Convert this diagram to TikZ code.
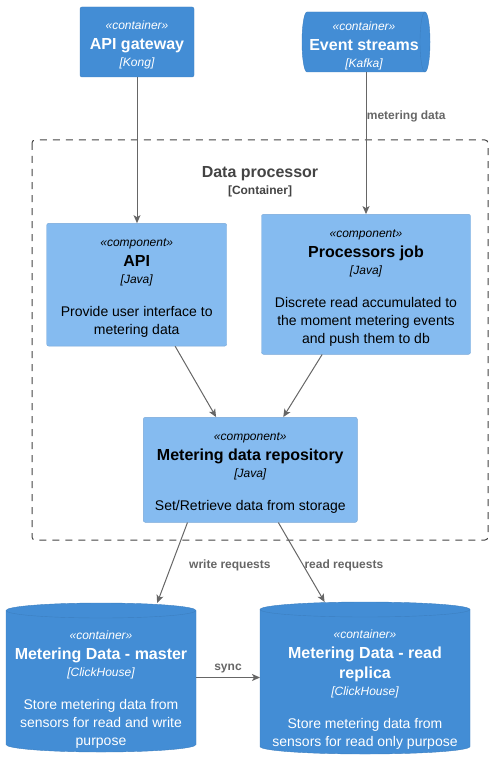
\documentclass[tikz,border=0pt]{standalone}
\usepackage{fontspec}
\setmainfont{Liberation Sans}
\usepackage{tikz}
\usetikzlibrary{arrows.meta}

\definecolor{ctfill}{HTML}{438DD5}
\definecolor{ctline}{HTML}{3C7FC0}
\definecolor{cpfill}{HTML}{85BBF0}
\definecolor{cpline}{HTML}{78A8D8}
\definecolor{relgrey}{HTML}{666666}
\definecolor{bdgrey}{HTML}{444444}

\newcommand\stereo{\itshape\fontsize{12}{18}\selectfont\rule{0pt}{15pt}}
\newcommand\ctitle{\bfseries\fontsize{16}{18}\selectfont}
\newcommand\ctech{\itshape\fontsize{12}{18}\selectfont}
\newcommand\cdesc{\fontsize{14}{18}\selectfont}

\tikzset{
  container/.style={rectangle, rounded corners=2pt, fill=ctfill, draw=ctline, text=white, align=center, font=\fontsize{12}{18}\selectfont},
  component/.style={rectangle, rounded corners=2pt, fill=cpfill, draw=cpline, text=black, align=center, font=\fontsize{12}{18}\selectfont},
  dbbox/.style={rectangle, inner sep=0pt, outer sep=0pt},
  dbtext/.style={text=white, align=center, font=\fontsize{12}{18}\selectfont},
  rel/.style={draw=relgrey, line width=1pt, -{Stealth[length=8pt,width=7pt,inset=2pt]}},
  lbl/.style={text=relgrey, font=\bfseries\fontsize{12}{14}\selectfont, inner sep=0pt},
}

\begin{document}
\begin{tikzpicture}[x=1pt,y=1pt]
\useasboundingbox (0,0) rectangle (492,-770);
% boundary
\draw[bdgrey, line width=1pt, dash pattern=on 7pt off 6pt, rounded corners=3pt] (32,-140) rectangle (488,-540);
\node[text=bdgrey, font=\bfseries\fontsize{16}{18}\selectfont] (dptitle) at (260,-173.5) {Data processor};
\node[text=bdgrey, font=\bfseries\fontsize{12}{14}\selectfont] (dpsub) at (260,-191) {[Container]};

% containers
\node[container, minimum width=114pt, minimum height=70pt] (gw) at (137,-42)
  {\stereo «container»\\[2pt] \ctitle API gateway\\[-1pt] \ctech [Kong]};
\fill[ctfill] (307,-12) -- (425,-12) arc[start angle=90,end angle=-90,x radius=5,y radius=30]
  -- (307,-72) arc[start angle=270,end angle=90,x radius=5,y radius=30] -- cycle;
\draw[ctline] (307,-12) -- (425,-12) arc[start angle=90,end angle=-90,x radius=5,y radius=30]
  -- (307,-72) arc[start angle=270,end angle=90,x radius=5,y radius=30] -- cycle;
\draw[ctline] (425,-12) arc[start angle=90,end angle=270,x radius=5,y radius=30];
\node[dbbox, minimum width=128pt, minimum height=60pt] (es) at (366,-42) {};
\node[dbtext] (estext) at (364,-43) {\stereo «container»\\[2pt] \ctitle Event streams\\[-1pt] \ctech [Kafka]};

% components
\node[component, minimum width=180pt, minimum height=122.7pt] (api) at (136.7,-284.7)
  {\stereo «component»\\[2pt] \ctitle API\\[-1pt] \ctech [Java]\\[15pt] \cdesc Provide user interface to\\ \cdesc metering data};
\node[component, minimum width=209pt, minimum height=140pt] (proc) at (366,-284.3)
  {\stereo «component»\\[2pt] \ctitle Processors job\\[-1pt] \ctech [Java]\\[15pt] \cdesc Discrete read accumulated to\\ \cdesc the moment metering events\\ \cdesc and push them to db};
\node[component, minimum width=214pt, minimum height=105pt] (repo) at (250.3,-469.8)
  {\stereo «component»\\[2pt] \ctitle Metering data repository\\[-1pt] \ctech [Java]\\[15pt] \cdesc Set/Retrieve data from storage};

% databases
\fill[ctfill] (6,-610.5) -- (6,-744.5) arc[start angle=180,end angle=360,x radius=95,y radius=7.5]
  -- (196,-610.5) arc[start angle=0,end angle=180,x radius=95,y radius=7.5] -- cycle;
\draw[ctline] (6,-610.5) -- (6,-744.5) arc[start angle=180,end angle=360,x radius=95,y radius=7.5]
  -- (196,-610.5) arc[start angle=0,end angle=180,x radius=95,y radius=7.5] -- cycle;
\draw[ctline] (6,-610.5) arc[start angle=180,end angle=360,x radius=95,y radius=7.5];
\node[dbbox, minimum width=190pt, minimum height=149pt] (master) at (101,-677.5) {};
\node[dbtext] (mastertext) at (101,-686)
  {\stereo «container»\\[2pt] \ctitle Metering Data - master\\[-1pt] \ctech [ClickHouse]\\[15pt] \cdesc Store metering data from\\ \cdesc sensors for read and write\\ \cdesc purpose};

\fill[ctfill] (260,-609.5) -- (260,-746.5) arc[start angle=180,end angle=360,x radius=105,y radius=7.5]
  -- (470,-609.5) arc[start angle=0,end angle=180,x radius=105,y radius=7.5] -- cycle;
\draw[ctline] (260,-609.5) -- (260,-746.5) arc[start angle=180,end angle=360,x radius=105,y radius=7.5]
  -- (470,-609.5) arc[start angle=0,end angle=180,x radius=105,y radius=7.5] -- cycle;
\draw[ctline] (260,-609.5) arc[start angle=180,end angle=360,x radius=105,y radius=7.5];
\node[dbbox, minimum width=210pt, minimum height=152pt] (replica) at (365,-678) {};
\node[dbtext] (replicatext) at (365,-686.5)
  {\stereo «container»\\[2pt] \ctitle Metering Data - read\\[2pt] \ctitle replica\\[-1pt] \ctech [ClickHouse]\\[15pt] \cdesc Store metering data from\\ \cdesc sensors for read only purpose};

% relations
\draw[rel] (gw.south) -- (gw.south |- api.north);
\draw[rel] (es.south) -- (es.south |- proc.north);
\node[lbl, anchor=west] (lblmd) at (366.7,-116) {metering data};
\draw[rel] (api.302) -- (repo.123);
\draw[rel] (proc.238) -- (repo.58);
\draw[rel] (repo.220) -- (master.53.7);
\node[lbl, anchor=west] (lblwr) at (189,-565) {write requests};
\draw[rel] (repo.298.7) -- (replica.118.9);
\node[lbl, anchor=west] (lblrr) at (304.3,-565) {read requests};
\draw[rel] (master.east) -- (master.east -| replica.west);
\node[lbl] (lblsync) at (228,-669) {sync};
\end{tikzpicture}
\end{document}
